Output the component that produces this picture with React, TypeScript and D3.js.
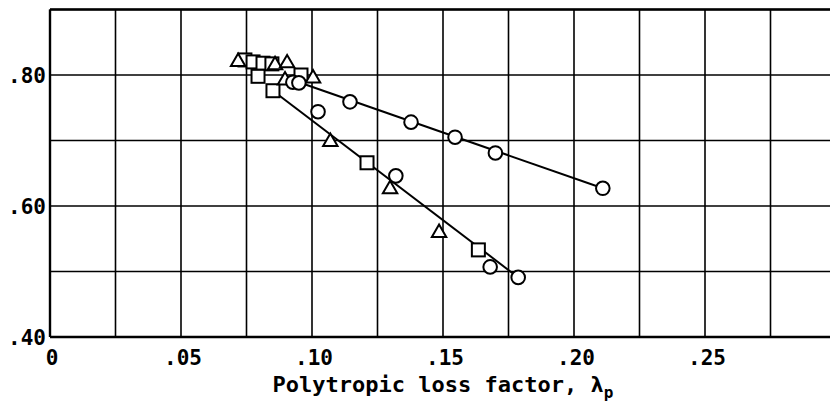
import React, { useEffect, useRef } from 'react';
import * as d3 from 'd3';

// x = polytropic loss factor, y = efficiency
const circles: [number, number][] = [
  [0.0927, 0.789], [0.095, 0.788], [0.1023, 0.744], [0.1145, 0.759],
  [0.132, 0.646], [0.1378, 0.728], [0.1546, 0.705], [0.170, 0.681],
  [0.168, 0.507], [0.1787, 0.491], [0.211, 0.627],
];
const squares: [number, number][] = [
  [0.0744, 0.823], [0.0775, 0.820], [0.0813, 0.818], [0.0847, 0.817],
  [0.0794, 0.798], [0.0851, 0.776], [0.0958, 0.800], [0.121, 0.666],
  [0.1635, 0.533],
];
const triangles: [number, number][] = [
  [0.0718, 0.820], [0.0859, 0.815], [0.0905, 0.818], [0.0897, 0.792],
  [0.1004, 0.795], [0.107, 0.698], [0.1298, 0.626], [0.1485, 0.559],
];
const upperLine: [number, number][] = [[0.095, 0.789], [0.211, 0.627]];
const lowerLine: [number, number][] = [[0.0851, 0.776], [0.1787, 0.491]];

const xTicks = [0, 0.05, 0.10, 0.15, 0.20, 0.25];
const xTickLabels = ['0', '.05', '.10', '.15', '.20', '.25'];
const yTicks = [0.80, 0.60, 0.40];
const yTickLabels = ['.80', '.60', '.40'];
const xGrid = d3.range(0, 0.3001, 0.025);
const yGrid = [0.4, 0.5, 0.6, 0.7, 0.8, 0.9];

const W = 830;
const H = 405;
const FONT = '"DejaVu Sans Mono", monospace';

const App: React.FC = () => {
  const svgRef = useRef<SVGSVGElement>(null);

  useEffect(() => {
    document.body.style.margin = '0';
    if (!svgRef.current) return;
    const svg = d3.select(svgRef.current);
    svg.selectAll('*').remove();

    const x = d3.scaleLinear().domain([0, 0.30]).range([50, 836]);
    const y = d3.scaleLinear().domain([0.40, 0.90]).range([337, 9.5]);

    // grid
    const grid = svg.append('g').attr('stroke', '#000').attr('stroke-width', 1.6);
    grid.selectAll('.vx').data(xGrid).enter().append('line')
      .attr('x1', d => x(d)).attr('x2', d => x(d))
      .attr('y1', y(0.9)).attr('y2', y(0.4));
    grid.selectAll('.hy').data(yGrid).enter().append('line')
      .attr('x1', x(0)).attr('x2', x(0.3))
      .attr('y1', d => y(d)).attr('y2', d => y(d));
    svg.append('line').attr('stroke', '#000').attr('stroke-width', 2.4)
      .attr('x1', x(0)).attr('x2', x(0)).attr('y1', y(0.9)).attr('y2', y(0.4));
    svg.append('line').attr('stroke', '#000').attr('stroke-width', 2.4)
      .attr('x1', x(0)).attr('x2', x(0.3)).attr('y1', y(0.9)).attr('y2', y(0.9));
    svg.append('line').attr('stroke', '#000').attr('stroke-width', 2.4)
      .attr('x1', x(0)).attr('x2', x(0.3)).attr('y1', y(0.4)).attr('y2', y(0.4));

    // fitted lines
    const line = d3.line<[number, number]>().x(d => x(d[0])).y(d => y(d[1]));
    [upperLine, lowerLine].forEach(l => {
      svg.append('path').attr('d', line(l) || '')
        .attr('fill', 'none').attr('stroke', '#000').attr('stroke-width', 2);
    });

    const marks = svg.append('g').attr('fill', '#fff').attr('stroke', '#000').attr('stroke-width', 2);
    marks.selectAll('.sq').data(squares).enter().append('rect')
      .attr('x', d => x(d[0]) - 6.5).attr('y', d => y(d[1]) - 6.5)
      .attr('width', 13).attr('height', 13);
    const tri = d3.symbol().type(d3.symbolTriangle).size(90);
    marks.selectAll('.tr').data(triangles).enter().append('path')
      .attr('d', tri() || '')
      .attr('transform', d => `translate(${x(d[0])},${y(d[1])})`);
    marks.selectAll('.ci').data(circles).enter().append('circle')
      .attr('cx', d => x(d[0])).attr('cy', d => y(d[1])).attr('r', 6.8);

    // tick labels
    svg.selectAll('.xl').data(xTicks).enter().append('text')
      .attr('x', d => x(d) + 2).attr('y', 365)
      .attr('text-anchor', 'middle').attr('font-family', FONT)
      .attr('font-weight', 'bold').attr('font-size', 21)
      .text((d, i) => xTickLabels[i]);
    svg.selectAll('.yl').data(yTicks).enter().append('text')
      .attr('x', 46).attr('y', d => y(d) + 8)
      .attr('text-anchor', 'end').attr('font-family', FONT)
      .attr('font-weight', 'bold').attr('font-size', 21)
      .text((d, i) => yTickLabels[i]);

    const title = svg.append('text')
      .attr('x', 443).attr('y', 392).attr('text-anchor', 'middle')
      .attr('font-family', FONT).attr('font-weight', 'bold').attr('font-size', 22);
    title.append('tspan').text('Polytropic loss factor, λ');
    title.append('tspan').attr('font-size', 16).attr('dy', 6).text('p');
  }, []);

  return (
    <div style={{ position: 'absolute', left: 0, top: 0 }}>
      <svg ref={svgRef} width={W} height={H} style={{ display: 'block', background: '#fff' }} />
    </div>
  );
};

export default App;
